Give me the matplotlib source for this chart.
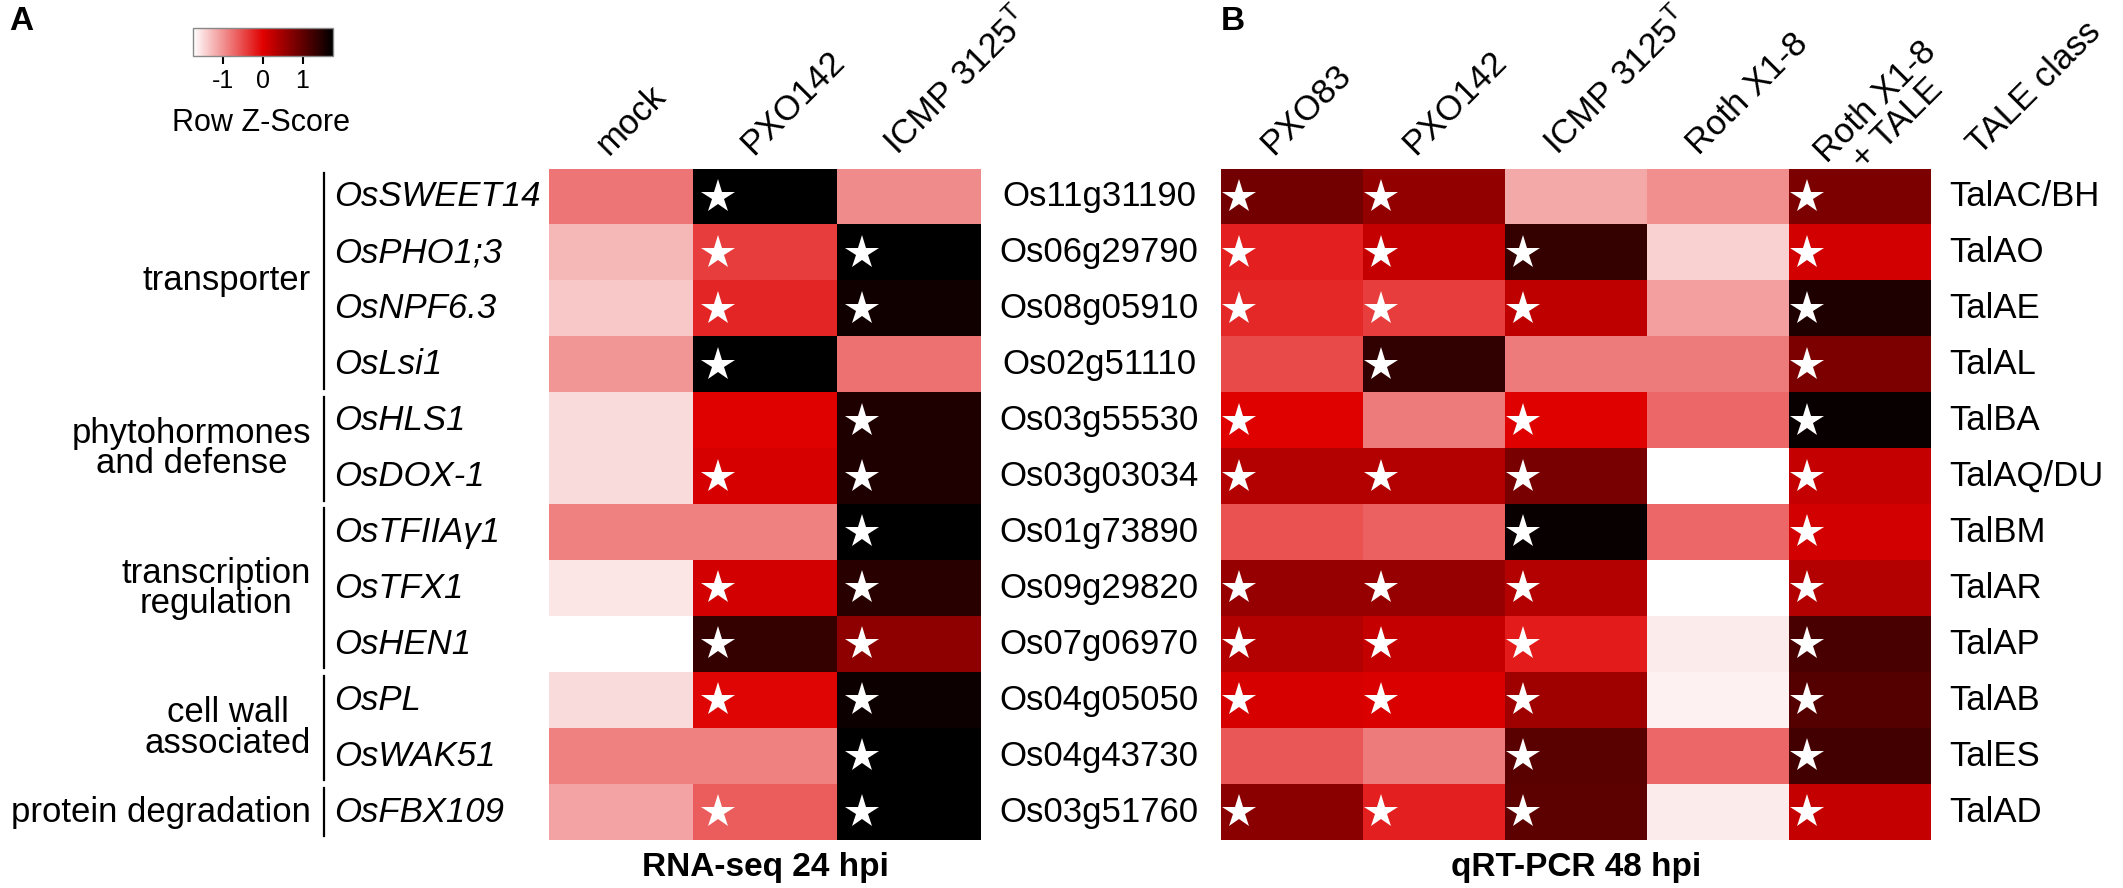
import numpy as np
import matplotlib
matplotlib.use("Agg")
import matplotlib.pyplot as plt
from matplotlib.colors import LinearSegmentedColormap, Normalize
from matplotlib.cm import ScalarMappable
from matplotlib.transforms import offset_copy

plt.rcParams["font.family"] = ["Liberation Sans", "DejaVu Sans"]
plt.rcParams["mathtext.fontset"] = "custom"
plt.rcParams["mathtext.rm"] = "Liberation Sans"
plt.rcParams["mathtext.it"] = "Liberation Sans:italic"
plt.rcParams["axes.unicode_minus"] = False

# rows (genes) and their loci / TALE classes
genes = ["OsSWEET14", "OsPHO1;3", "OsNPF6.3", "OsLsi1", "OsHLS1", "OsDOX-1",
         "OsTFIIAγ1", "OsTFX1", "OsHEN1", "OsPL", "OsWAK51", "OsFBX109"]
loci = ["Os11g31190", "Os06g29790", "Os08g05910", "Os02g51110", "Os03g55530",
        "Os03g03034", "Os01g73890", "Os09g29820", "Os07g06970", "Os04g05050",
        "Os04g43730", "Os03g51760"]
tale_class = ["TalAC/BH", "TalAO", "TalAE", "TalAL", "TalBA", "TalAQ/DU",
              "TalBM", "TalAR", "TalAP", "TalAB", "TalES", "TalAD"]
groups = [("transporter", 0, 3), ("phytohormones\nand defense", 4, 5),
          ("transcription\nregulation", 6, 8), ("cell wall\nassociated", 9, 10),
          ("protein degradation", 11, 11)]

rnaseq_cols = ["mock", "PXO142", "ICMP 3125$^{\\mathrm{T}}$"]
qpcr_cols = ["PXO83", "PXO142", "ICMP 3125$^{\\mathrm{T}}$", "Roth X1-8",
             "Roth X1-8\n+ TALE"]

# row z-scores
rnaseq_z = np.array([
    [-0.81, 1.77, -0.96],
    [-1.27, -0.42, 1.77],
    [-1.38, -0.25, 1.63],
    [-1.03, 1.77, -0.78],
    [-1.52, 0.00, 1.52],
    [-1.52, 0.07, 1.52],
    [-0.89, -0.89, 1.77],
    [-1.59, 0.11, 1.45],
    [-1.77, 1.35, 0.64],
    [-1.52, -0.04, 1.66],
    [-0.89, -0.89, 1.77],
    [-1.13, -0.64, 1.77],
])
rnaseq_sig = np.array([
    [0, 1, 0], [0, 1, 1], [0, 1, 1], [0, 1, 0], [0, 0, 1], [0, 1, 1],
    [0, 0, 1], [0, 1, 1], [0, 1, 1], [0, 1, 1], [0, 0, 1], [0, 1, 1],
])

qpcr_z = np.array([
    [0.85, 0.60, -1.17, -0.99, 0.78],
    [-0.21, 0.21, 1.35, -1.45, 0.11],
    [-0.28, -0.42, 0.25, -1.10, 1.52],
    [-0.50, 1.38, -0.85, -0.85, 0.78],
    [0.00, -0.85, 0.00, -0.71, 1.70],
    [0.35, 0.35, 0.81, -1.77, 0.21],
    [-0.57, -0.67, 1.70, -0.71, 0.11],
    [0.57, 0.57, 0.35, -1.77, 0.35],
    [0.35, 0.21, -0.18, -1.63, 1.20],
    [0.07, 0.04, 0.50, -1.66, 1.10],
    [-0.60, -0.85, 1.06, -0.71, 1.24],
    [0.67, -0.21, 1.03, -1.63, 0.21],
])
qpcr_sig = np.array([
    [1, 1, 0, 0, 1], [1, 1, 1, 0, 1], [1, 1, 1, 0, 1], [0, 1, 0, 0, 1],
    [1, 0, 1, 0, 1], [1, 1, 1, 0, 1], [0, 0, 1, 0, 1], [1, 1, 1, 0, 1],
    [1, 1, 1, 0, 1], [1, 1, 1, 0, 1], [0, 0, 1, 0, 1], [1, 1, 1, 0, 1],
])

W, H = 2123, 888
ZLIM = 1.77
cmap = LinearSegmentedColormap.from_list("wrk", ["#ffffff", "#e00000", "#000000"])
norm = Normalize(vmin=-ZLIM, vmax=ZLIM)
FS = 25


def px_rect(x0, y0, x1, y1):
    return [x0 / W, 1 - y1 / H, (x1 - x0) / W, (y1 - y0) / H]


def heatmap(ax, z, sig, cols, star_dx, label_dx):
    ax.imshow(z, cmap=cmap, norm=norm, aspect="auto", interpolation="nearest")
    ax.set_axis_off()
    rr, cc = np.nonzero(sig)
    ax.plot(cc - 0.5 + star_dx, rr, ls="none", marker="*", ms=25.5,
            color="white", mew=0, clip_on=False)
    for j, name in enumerate(cols):
        dx, dy = label_dx, 13
        if "\n" in name:
            # two-line label: first line sits where single labels sit
            dx, dy = -10, -18
        tr = offset_copy(ax.get_xaxis_transform(), fig=fig, x=dx, y=dy,
                         units="dots")
        ax.text(j, 1.0, name, transform=tr, rotation=45, rotation_mode="anchor",
                ha="left", va="baseline", fontsize=FS, multialignment="center",
                linespacing=0.95)


fig = plt.figure(figsize=(W / 100, H / 100), dpi=100)

# panel A
axA = fig.add_axes(px_rect(549, 169, 981, 840))
heatmap(axA, rnaseq_z, rnaseq_sig, rnaseq_cols, 0.174, -12)
ytr = axA.get_yaxis_transform()
for i, g in enumerate(genes):
    axA.text((334 - 549) / 432, i, g, transform=ytr, ha="left", va="center",
             fontsize=FS, style="italic")
for i, l in enumerate(loci):
    axA.text((1099 - 549) / 432, i, l, transform=ytr, ha="center", va="center",
             fontsize=FS)
line_x = (324 - 549) / 432
for name, r0, r1 in groups:
    axA.plot([line_x, line_x], [r0 - 0.5 + 0.07, r1 + 0.5 - 0.07], color="black",
             lw=1.6, transform=ytr, clip_on=False)
    axA.text((311 - 549) / 432, (r0 + r1) / 2, name, transform=ytr, ha="right",
             va="center", fontsize=FS, multialignment="center", linespacing=0.9)
axA.text(0.5, -(867 - 840) / 671, "RNA-seq 24 hpi", transform=axA.transAxes,
         ha="center", va="center", fontsize=24, fontweight="bold")

# panel B
axB = fig.add_axes(px_rect(1221, 169, 1931, 840))
heatmap(axB, qpcr_z, qpcr_sig, qpcr_cols, 0.127, -19)
ytrB = axB.get_yaxis_transform()
for i, t in enumerate(tale_class):
    axB.text((1949 - 1221) / 710, i, t, transform=ytrB, ha="left", va="center",
             fontsize=FS)
axB.text((1980 - 1221) / 710, 1 + 13 / 671, "TALE class", transform=axB.transAxes,
         rotation=45, rotation_mode="anchor", ha="left", va="baseline", fontsize=FS)
axB.text(0.5, -(867 - 840) / 671, "qRT-PCR 48 hpi", transform=axB.transAxes,
         ha="center", va="center", fontsize=24, fontweight="bold")

# colour key
cax = fig.add_axes(px_rect(193, 28, 333, 56))
cb = fig.colorbar(ScalarMappable(norm=norm, cmap=cmap), cax=cax,
                  orientation="horizontal", ticks=[-1, 0, 1])
cb.outline.set_edgecolor("#888888")
cb.outline.set_linewidth(1)
cax.tick_params(length=6, width=1.5, labelsize=18, pad=3)
fig.text(261 / W, 1 - 123 / H, "Row Z-Score", ha="center", va="center", fontsize=22)

fig.text(9 / W, 1 - 21 / H, "A", ha="left", va="center", fontsize=24, fontweight="bold")
fig.text(1221 / W, 1 - 21 / H, "B", ha="left", va="center", fontsize=24,
         fontweight="bold")

fig.savefig("out.png", dpi=100)
